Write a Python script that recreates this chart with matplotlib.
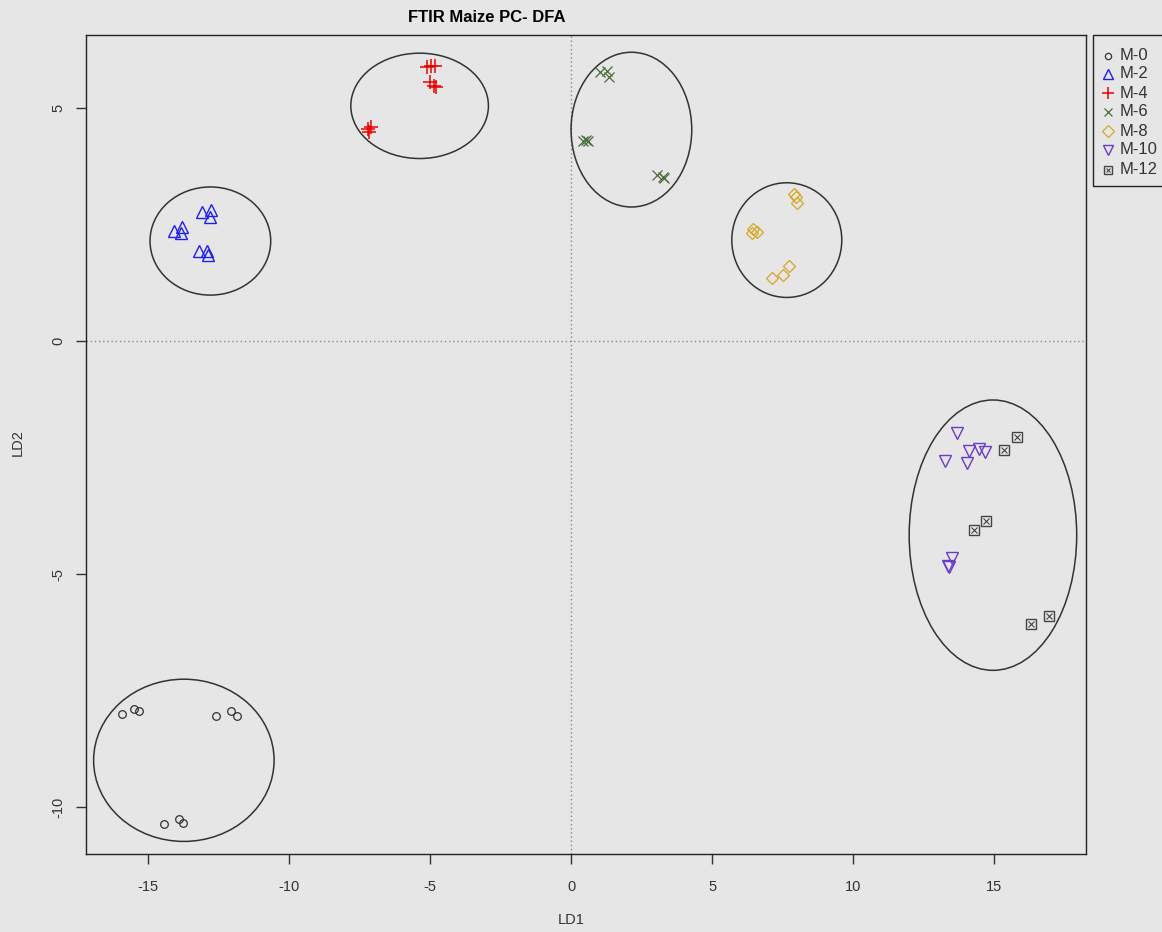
import matplotlib
matplotlib.use("Agg")
import matplotlib.pyplot as plt
from matplotlib.patches import Ellipse, Rectangle
from matplotlib.lines import Line2D

plt.rcParams['font.family'] = ['Liberation Sans', 'DejaVu Sans']

groups = ["M-0", "M-2", "M-4", "M-6", "M-8", "M-10", "M-12"]

m0_x = [-15.92, -15.50, -15.32, -12.60, -12.07, -11.83, -14.43, -13.91, -13.76]
m0_y = [-8.00, -7.88, -7.94, -8.03, -7.94, -8.03, -10.36, -10.25, -10.33]
m2_x = [-13.09, -12.77, -12.82, -14.07, -13.78, -13.83, -13.18, -12.91, -12.87]
m2_y = [2.77, 2.82, 2.66, 2.36, 2.46, 2.32, 1.93, 1.93, 1.84]
m4_x = [-5.10, -4.95, -4.82, -5.00, -4.87, -4.80, -7.20, -7.10, -7.15]
m4_y = [5.89, 5.91, 5.91, 5.56, 5.48, 5.46, 4.55, 4.60, 4.48]
m6_x = [1.03, 1.27, 1.35, 0.44, 0.61, 0.53, 3.06, 3.30, 3.25]
m6_y = [5.77, 5.79, 5.66, 4.29, 4.29, 4.31, 3.57, 3.50, 3.52]
m8_x = [7.91, 7.97, 8.00, 6.46, 6.58, 6.42, 7.74, 7.50, 7.14]
m8_y = [3.15, 3.09, 2.97, 2.41, 2.34, 2.32, 1.61, 1.42, 1.36]
m10_x = [13.69, 14.10, 14.47, 14.68, 13.25, 14.04, 13.51, 13.40, 13.35]
m10_y = [-1.96, -2.36, -2.31, -2.37, -2.56, -2.61, -4.64, -4.84, -4.82]
m12_x = [15.83, 15.37, 14.73, 14.29, 16.95, 16.32]
m12_y = [-2.05, -2.34, -3.85, -4.04, -5.89, -6.06]

# ellipses: centre x, centre y, half width, half height
ell_cx = [-13.73, -12.79, -5.37, 2.14, 7.65, 14.96]
ell_cy = [-8.99, 2.15, 5.05, 4.54, 2.17, -4.16]
ell_rx = [3.20, 2.14, 2.44, 2.14, 1.95, 2.97]
ell_ry = [1.74, 1.16, 1.13, 1.66, 1.23, 2.90]

xticks = [-15, -10, -5, 0, 5, 10, 15]
yticks = [-10, -5, 0, 5]

bg = '#e6e6e6'
fig = plt.figure(figsize=(11.62, 9.32), dpi=100, facecolor=bg)
W, H = 1162, 932
ax = fig.add_axes([86 / W, 1 - 854 / H, 1000 / W, 819 / H], facecolor=bg)

ax.set_xlim(-17.2, 18.26)
ax.set_ylim(-11.0, 6.57)

ax.axvline(0, color='#888888', lw=1, ls=(0, (1, 2)), zorder=1)
ax.axhline(0, color='#888888', lw=1, ls=(0, (1, 2)), zorder=1)

for cx, cy, rx, ry in zip(ell_cx, ell_cy, ell_rx, ell_ry):
    ax.add_patch(Ellipse((cx, cy), 2 * rx, 2 * ry, fill=False,
                         edgecolor='#333333', lw=1.1, zorder=2))

styles = [
    dict(marker='o', color='#333333', ms=5.5, mfc='none', mew=0.9),
    dict(marker='^', color='#2020ee', ms=9, mfc='none', mew=1.0),
    dict(marker='+', color='#ee0000', ms=9.5, mew=1.1),
    dict(marker='x', color='#4a6a3a', ms=6.5, mew=0.9),
    dict(marker='D', color='#d4a820', ms=6, mfc='none', mew=0.9),
    dict(marker='v', color='#6a3cc8', ms=9, mfc='none', mew=1.0),
    dict(marker='s', color='#444444', ms=7, mfc='none', mew=1.0),
]
data = [(m0_x, m0_y), (m2_x, m2_y), (m4_x, m4_y), (m6_x, m6_y),
        (m8_x, m8_y), (m10_x, m10_y), (m12_x, m12_y)]
for (xs, ys), st in zip(data, styles):
    ax.plot(xs, ys, ls='none', zorder=3, **st)
# boxed x inner cross for M-12
ax.plot(m12_x, m12_y, ls='none', marker='x', color='#444444', ms=4.5, mew=0.8, zorder=3)

ax.set_xticks(xticks)
ax.set_yticks(yticks)
ax.set_xticklabels([str(t) for t in xticks], fontsize=10.5, color='#333333')
ax.set_yticklabels([str(t) for t in yticks], fontsize=10.5, color='#333333',
                   rotation=90, va='center')
ax.tick_params(direction='out', length=7, width=1, color='#333333')
ax.tick_params(axis='x', pad=12)
ax.tick_params(axis='y', pad=8)
for s in ax.spines.values():
    s.set_color('#222222')
    s.set_linewidth(1.0)

fig.text(571 / W, 1 - 920 / H, 'LD1', ha='center', va='center', fontsize=10.5, color='#333333')
fig.text(18 / W, 1 - 443 / H, 'LD2', ha='center', va='center', rotation=90, fontsize=10.5, color='#333333')
fig.text(487 / W, 1 - 17 / H, 'FTIR Maize PC- DFA', ha='center', va='center',
         fontsize=12, fontweight='bold', color='black')

# legend drawn manually (clipped at right edge like the reference)
fig.patches.append(Rectangle((1093 / W, 1 - 186 / H), 80 / W, 151 / H, transform=fig.transFigure,
                             fill=False, edgecolor='#222222', lw=1.0))
row_y = [56, 74, 93, 112, 131, 150, 170]
leg_ms = [4.5, 7, 9, 6, 6, 7, 5.5]
for i, (g, st) in enumerate(zip(groups, styles)):
    yy = 1 - row_y[i] / H
    st2 = dict(st)
    st2['ms'] = leg_ms[i]
    fig.add_artist(Line2D([1108 / W], [yy], transform=fig.transFigure, ls='none', **st2))
    if i == 6:
        fig.add_artist(Line2D([1108 / W], [yy], transform=fig.transFigure, ls='none',
                              marker='x', color='#444444', ms=3.5, mew=0.8))
    fig.text(1120 / W, yy, g, ha='left', va='center', fontsize=12, color='#333333')

fig.savefig('out.png', dpi=100, facecolor=bg)
